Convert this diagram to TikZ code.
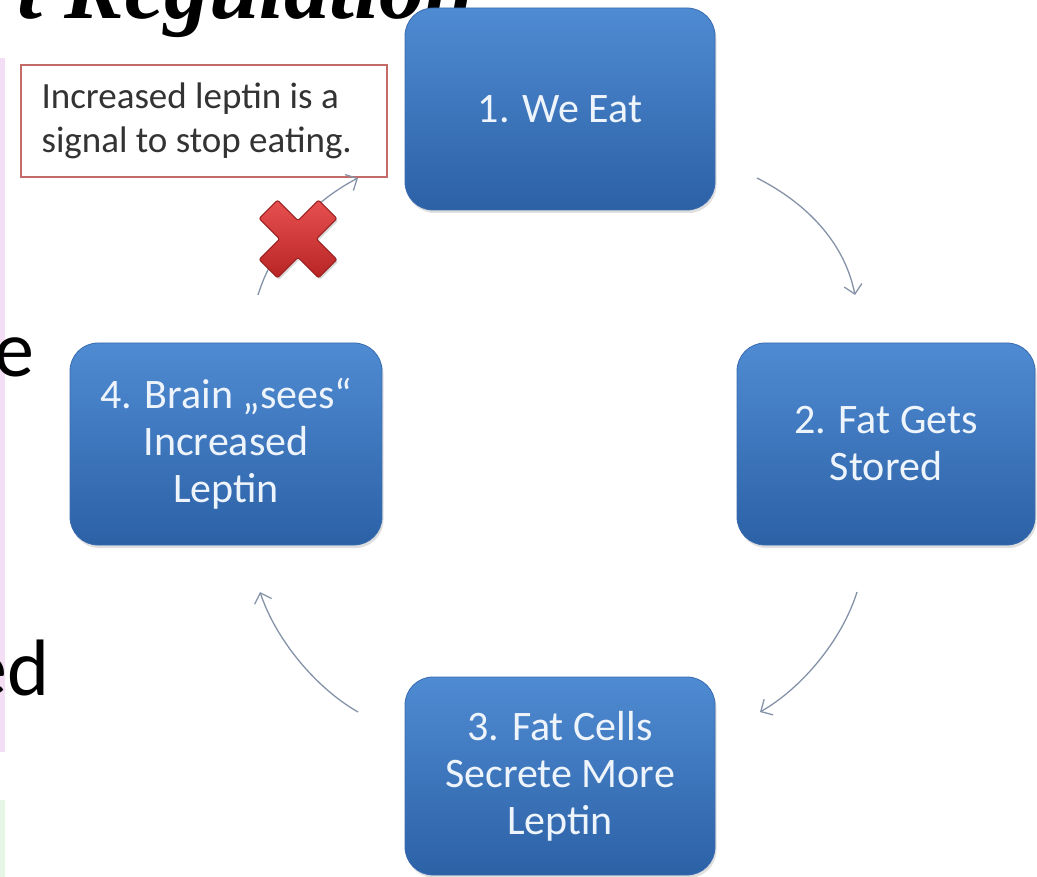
\documentclass[tikz,border=0pt]{standalone}
\usepackage{fontspec}
\setmainfont{Carlito}
\newfontfamily\titlefont{Liberation Serif}
\usetikzlibrary{arrows.meta,shadows,calc}
\definecolor{boxtop}{HTML}{4F8BD2}
\definecolor{boxbot}{HTML}{2C61A6}
\definecolor{boxedge}{HTML}{3A6CB0}
\definecolor{boxtext}{HTML}{EEF4FB}
\definecolor{calloutred}{HTML}{C46A68}
\definecolor{textgray}{HTML}{333333}
\definecolor{arrowgray}{HTML}{8593A8}
\definecolor{xtop}{HTML}{E85050}
\definecolor{xbot}{HTML}{B82424}
\definecolor{xedge}{HTML}{9A2020}
\definecolor{stripink}{HTML}{F4DEF5}
\definecolor{stripgreen}{HTML}{E6F6E6}
\tikzset{
  stepbox/.style={rectangle, rounded corners=28pt, top color=boxtop, bottom color=boxbot,
    draw=boxedge, line width=0.8pt, text=boxtext, align=center,
    font=\fontsize{42}{47}\selectfont,
    drop shadow={opacity=0.25, shadow xshift=1.5pt, shadow yshift=-3pt}},
  flow/.style={draw=arrowgray, line width=1.3pt,
    -{Straight Barb[length=9pt,width=18pt,line width=1.3pt]}},
  slidetext/.style={anchor=base east, font=\fontsize{80}{84}\selectfont, text=black}
}
\begin{document}
\begin{tikzpicture}[x=1pt,y=-1pt]
\clip (0,0) rectangle (1037,877);
\fill[white] (0,0) rectangle (1037,877);
% left strip of the slide
\fill[stripink] (0,58) rectangle (5,752);
\fill[stripgreen] (0,800) rectangle (5,877);
\node[slidetext] (se) at (38,377) {e};
\node[slidetext] (sed) at (53,695) {ed};
% title
\node[anchor=base east, font=\titlefont\bfseries\itshape\fontsize{90}{92}\selectfont, text=black, inner sep=0pt] (title) at (475,19) {t Regulation};
% boxes
\node[stepbox, minimum width=310pt, minimum height=202pt] (n1) at (560,109) {1. We Eat};
\node[stepbox, minimum width=298pt, minimum height=202pt] (n2) at (886,444) {2. Fat Gets\\Stored};
\node[stepbox, minimum width=310pt, minimum height=198pt] (n3) at (560,776) {3. Fat Cells\\Secrete More\\Leptin};
\node[stepbox, minimum width=312pt, minimum height=202pt] (n4) at (226,444) {4. Brain „sees“\\Increased\\Leptin};
% callout
\node[draw=calloutred, line width=1.3pt, fill=white, minimum width=366pt, minimum height=112pt,
  inner sep=0pt] (callout) at (204,121) {};
\node[anchor=west, align=left, inner sep=0pt, font=\fontsize{37}{44}\selectfont, text=textgray]
  (callouttext) at ($(callout.west)+(21,0)$) {Increased leptin is a\\signal to stop eating.};
% arrow end points
\coordinate (a1s) at (757,178);
\coordinate (a1e) at (855,295);
\coordinate (a2s) at (857,592);
\coordinate (a2e) at (760,712);
\coordinate (a3s) at (358,712);
\coordinate (a3e) at (260,592);
\coordinate (a4s) at (258,295);
\coordinate (a4e) at (358,178);
\draw[flow] (a1s) .. controls (810,205) and (845,245) .. (a1e);
\draw[flow] (a2s) .. controls (842,640) and (802,688) .. (a2e);
\draw[flow] (a3s) .. controls (316,688) and (276,640) .. (a3e);
\draw[flow] (a4s) .. controls (272,250) and (306,205) .. (a4e);
% red cross
\begin{scope}[shift={(298,239)}, rotate=45]
  \path[top color=xtop, bottom color=xbot, draw=xedge, line width=1pt, rounded corners=2pt,
    drop shadow={opacity=0.3, shadow xshift=1.5pt, shadow yshift=-2pt}]
    (13,13) -- (13,42) -- (-13,42) -- (-13,13) -- (-42,13) -- (-42,-13) -- (-13,-13)
    -- (-13,-42) -- (13,-42) -- (13,-13) -- (42,-13) -- (42,13) -- cycle;
\end{scope}
\end{tikzpicture}
\end{document}
